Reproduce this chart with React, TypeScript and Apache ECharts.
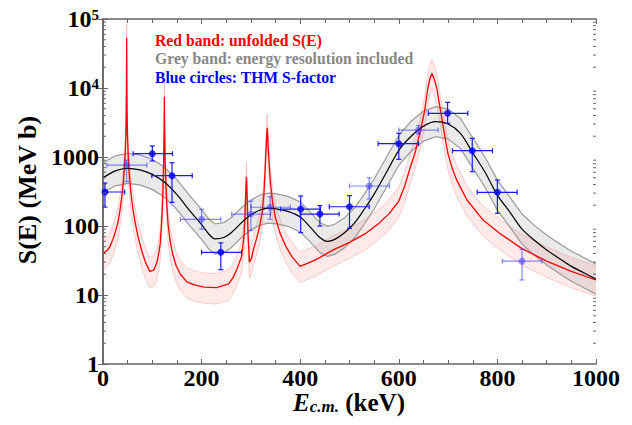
import React, { useEffect, useRef } from "react";
import * as echarts from "echarts";

const FONT = "Liberation Serif";

// x tick values (keV)
const xTickValues = [0, 200, 400, 600, 800, 1000];
// y tick labels (log axis)
const yTickLabels = ["1", "10", "100", "1000", "10^4", "10^5"];
// minor tick positions of the log axis
const yMinorTicks = [
  2, 3, 4, 5, 6, 7, 8, 9,
  20, 30, 40, 50, 60, 70, 80, 90,
  200, 300, 400, 500, 600, 700, 800, 900,
  2000, 3000, 4000, 5000, 6000, 7000, 8000, 9000,
  20000, 30000, 40000, 50000, 60000, 70000, 80000, 90000,
];

// Red: unfolded S(E)  [E, S, lower, upper]
const redCurve: number[][] = [
  [0, 40, 23, 64], [8, 44, 25.6, 70], [14, 50, 29, 80], [20, 64, 37, 102], [25, 82, 48, 131],
  [30, 110, 64, 176], [34, 160, 93, 256], [38, 260, 151, 416], [41, 420, 244, 672], [43, 650, 378, 1040],
  [45, 1100, 640, 1760], [46.3, 2000, 1160, 3200], [47.2, 4500, 2620, 7200], [47.7, 14000, 8140, 22400],
  [48, 53600, 31200, 85800], [48.3, 14000, 8140, 22400], [48.8, 4500, 2620, 7200], [49.7, 2000, 1160, 3200],
  [51, 1100, 640, 1760], [53, 600, 349, 960], [56, 330, 192, 528], [60, 190, 110, 304], [65, 115, 67, 184],
  [71, 70, 41, 112], [78, 45, 26, 72], [86, 30, 17.4, 48], [95, 22, 12.8, 35], [103, 23, 13.4, 37],
  [109, 29, 16.9, 46], [113, 40, 23, 64], [116, 55, 32, 88], [118, 90, 52, 144], [120, 160, 93, 256],
  [121.5, 300, 174, 480], [123, 800, 465, 1280], [124, 2500, 1450, 4000], [124.5, 7480, 4350, 12000],
  [125, 2500, 1450, 4000], [126, 900, 523, 1440], [127.5, 420, 244, 672], [129.5, 200, 116, 320],
  [132, 105, 61, 168], [136, 62, 36, 99], [141, 40, 23, 64], [148, 27, 15.7, 43], [157, 20, 11.6, 32],
  [170, 15.5, 9, 24.8], [185, 14, 8.1, 22.4], [205, 13, 7.6, 20.8], [230, 12.8, 7.4, 20.5],
  [255, 14.5, 8.4, 23.2], [264, 18, 10.5, 28.8], [272, 24, 14, 38], [281, 36, 21, 58], [286, 70, 41, 112],
  [288, 140, 81, 224], [289.5, 300, 174, 480], [291, 518, 301, 829], [292.5, 250, 145, 400],
  [294, 80, 47, 128], [297, 30, 17.4, 48], [301, 34, 20, 54], [305, 45, 26, 72], [312, 68, 40, 109],
  [318, 100, 58, 160], [323, 160, 93, 256], [326.5, 300, 174, 480], [329, 700, 407, 1120],
  [330.5, 1200, 698, 1920], [332, 2000, 1160, 3200], [333, 2660, 1550, 4260], [334, 2000, 1160, 3200],
  [335.5, 1200, 698, 1920], [337.5, 700, 407, 1120], [340, 400, 233, 640], [344, 220, 128, 352],
  [350, 130, 76, 208], [359, 79, 46, 126], [370, 52, 30, 83], [383, 36, 21, 58], [400, 26, 15.1, 42],
  [430, 32, 18.6, 51], [467, 45, 26, 72], [500, 58, 34, 93], [534, 79, 46, 126], [560, 110, 64, 176],
  [580, 150, 87, 240], [600, 230, 134, 368], [612, 380, 221, 608], [623, 700, 407, 1120],
  [633, 1150, 669, 1840], [645, 2600, 1510, 4160], [652, 4500, 2620, 7200], [659, 10000, 5810, 16000],
  [663, 13500, 7850, 21600], [667, 16300, 9480, 26100], [671, 14000, 8140, 22400], [677, 10000, 5810, 16000],
  [684, 5000, 2910, 8000], [690, 2800, 1630, 4480], [695, 1700, 988, 2720], [700, 1100, 640, 1760],
  [708, 700, 407, 1120], [717, 470, 273, 752], [738, 240, 140, 384], [771, 122, 71, 195],
  [805, 78, 45, 125], [850, 47, 27, 75], [900, 31, 18, 50], [950, 22, 12.8, 35], [1000, 16.5, 9.6, 26.4],
];

// Grey: energy resolution included  [E, S, lower, upper]
const greyCurve: number[][] = [
  [0, 500, 303, 825], [25, 630, 382, 1040], [50, 685, 415, 1130], [75, 650, 394, 1073],
  [100, 560, 339, 924], [125, 430, 261, 710], [150, 285, 173, 470], [175, 170, 103, 281],
  [200, 105, 64, 173], [215, 76, 46, 125], [227, 65, 39.4, 107], [245, 68, 41.2, 112],
  [260, 80, 48.5, 132], [280, 110, 67, 182], [300, 145, 88, 239], [320, 172, 104, 284],
  [335, 182, 110, 300], [350, 178, 108, 294], [375, 163, 99, 269], [400, 135, 82, 223],
  [420, 97, 59, 160], [440, 68, 41.2, 112], [455, 60, 36.4, 99], [470, 64, 38.8, 106],
  [490, 80, 48.5, 132], [510, 110, 67, 182], [530, 175, 106, 289], [550, 290, 176, 479],
  [575, 600, 364, 990], [600, 1250, 758, 2063], [625, 2000, 1212, 3300], [650, 2800, 1697, 4620],
  [675, 3250, 1970, 5363], [700, 3000, 1818, 4950], [725, 2200, 1333, 3630], [750, 1150, 697, 1898],
  [775, 600, 364, 990], [800, 280, 170, 462], [825, 160, 97, 264], [850, 90, 54.5, 149],
  [875, 62, 37.6, 102], [900, 45, 27.3, 74], [925, 34, 20.6, 56], [950, 26, 15.8, 43],
  [975, 21, 12.7, 35], [1000, 17, 10.3, 28],
];

// THM S-factor points [E, S, Elow, Ehigh, Slow, Shigh]
const thmSolid: number[][] = [
  [4, 311, -36, 44, 188, 420],
  [100, 1117, 61, 141, 875, 1445],
  [140, 536, 99, 181, 220, 826],
  [239, 41.6, 200, 281, 23.3, 57],
  [401, 176, 360, 441, 80, 272],
  [440, 149, 400, 479, 100, 197],
  [500, 190, 459, 540, 93, 275],
  [600, 1560, 558, 640, 926, 2204],
  [699, 4300, 660, 740, 3080, 6200],
  [749, 1234, 709, 790, 613, 1866],
  [800, 308, 759, 840, 153, 464],
];
const thmLight: number[][] = [
  [48, 765, 8, 89, 440, 900],
  [200, 125, 157, 239, 90, 175],
  [300, 149, 261, 340, 86, 230],
  [339, 187, 300, 380, 125, 265],
  [540, 380, 500, 581, 246, 501],
  [640, 2460, 600, 680, 2150, 2850],
  [850, 31, 810, 890, 16.5, 46],
];

function bandSeries(data: number[][], fill: string, edge: string, edgeWidth: number, z: number) {
  return {
    type: "custom",
    z,
    clip: true,
    silent: true,
    data: [0],
    renderItem: (_params: any, api: any) => {
      const upper = data.map((d) => api.coord([d[0], d[3]]));
      const lower = data.map((d) => api.coord([d[0], d[2]]));
      return {
        type: "group",
        children: [
          {
            type: "polygon",
            shape: { points: upper.concat(lower.slice().reverse()) },
            style: { fill, stroke: "none" },
          },
          { type: "polyline", shape: { points: upper }, style: { stroke: edge, lineWidth: edgeWidth, fill: "none" } },
          { type: "polyline", shape: { points: lower }, style: { stroke: edge, lineWidth: edgeWidth, fill: "none" } },
        ],
      };
    },
  };
}

function errorSeries(data: number[][], color: string, z: number) {
  return {
    type: "custom",
    z,
    clip: true,
    silent: true,
    data,
    encode: { x: [0, 2, 3], y: [1, 4, 5] },
    renderItem: (_params: any, api: any) => {
      const x = api.value(0), y = api.value(1);
      const pL = api.coord([api.value(2), y]);
      const pR = api.coord([api.value(3), y]);
      const pB = api.coord([x, api.value(4)]);
      const pT = api.coord([x, api.value(5)]);
      const c = 2.5;
      const style = { stroke: color, lineWidth: 1.2 };
      const ln = (x1: number, y1: number, x2: number, y2: number) => ({ type: "line", shape: { x1, y1, x2, y2 }, style });
      return {
        type: "group",
        children: [
          ln(pL[0], pL[1], pR[0], pR[1]),
          ln(pL[0], pL[1] - c, pL[0], pL[1] + c),
          ln(pR[0], pR[1] - c, pR[0], pR[1] + c),
          ln(pB[0], pB[1], pT[0], pT[1]),
          ln(pB[0] - c, pB[1], pB[0] + c, pB[1]),
          ln(pT[0] - c, pT[1], pT[0] + c, pT[1]),
        ],
      };
    },
  };
}

const AXIS_COLOR = "#666";

export default function App() {
  const ref = useRef<HTMLDivElement>(null);
  useEffect(() => {
    if (!ref.current) return;
    const chart = echarts.init(ref.current, undefined, { renderer: "svg" });
    const labelMap: Record<string, string> = {
      "1": yTickLabels[0], "10": yTickLabels[1], "100": yTickLabels[2], "1000": yTickLabels[3],
      "10000": yTickLabels[4], "100000": yTickLabels[5],
    };
    const legendStyle = (text: string, fill: string) => ({
      text, fill, fontFamily: FONT, fontWeight: "bold", fontSize: 15.7,
    });
    const option: any = {
      animation: false,
      backgroundColor: "#fff",
      grid: { left: 103, right: 36, top: 19, bottom: 61, containLabel: false },
      xAxis: [
        {
          type: "value", min: 0, max: 1000, interval: 200, position: "bottom",
          axisLine: { show: true, lineStyle: { color: AXIS_COLOR, width: 1.5 } },
          axisTick: { show: true, inside: true, length: 5, lineStyle: { color: AXIS_COLOR, width: 1 } },
          minorTick: { show: true, splitNumber: 4, length: 4, lineStyle: { color: AXIS_COLOR, width: 1 } },
          splitLine: { show: false },
          axisLabel: {
            margin: 2, color: "#000", fontFamily: FONT, fontWeight: "bold", fontSize: 24, lineHeight: 24,
            formatter: (v: number) => (xTickValues.indexOf(v) >= 0 ? String(v) : ""),
          },
        },
        {
          type: "value", min: 0, max: 1000, interval: 200, position: "top",
          axisLine: { show: true, lineStyle: { color: AXIS_COLOR, width: 1.5 } },
          axisTick: { show: true, inside: true, length: 5, lineStyle: { color: AXIS_COLOR, width: 1 } },
          minorTick: { show: true, splitNumber: 4, length: 4, lineStyle: { color: AXIS_COLOR, width: 1 } },
          splitLine: { show: false },
          axisLabel: { show: false },
        },
      ],
      yAxis: [
        {
          type: "log", logBase: 10, min: 1, max: 100000, position: "left",
          axisLine: { show: true, lineStyle: { color: AXIS_COLOR, width: 1.5 } },
          axisTick: { show: true, inside: true, length: 5, lineStyle: { color: AXIS_COLOR, width: 1 } },
          splitLine: { show: false },
          axisLabel: {
            margin: 4, color: "#000", fontFamily: FONT, fontWeight: "bold", fontSize: 24,
            formatter: (v: number) => {
              const s = labelMap[String(Math.round(v))] || "";
              if (s.indexOf("^") >= 0) {
                const [b, e] = s.split("^");
                return b + "{sup|" + e + "}";
              }
              return s;
            },
            rich: {
              sup: { fontFamily: FONT, fontWeight: "bold", fontSize: 15, color: "#000", verticalAlign: "top", lineHeight: 24 },
            },
          },
        },
        {
          type: "log", logBase: 10, min: 1, max: 100000, position: "right",
          axisLine: { show: true, lineStyle: { color: AXIS_COLOR, width: 1.5 } },
          axisTick: { show: true, inside: true, length: 5, lineStyle: { color: AXIS_COLOR, width: 1 } },
          splitLine: { show: false },
          axisLabel: { show: false },
        },
      ],
      series: [
        bandSeries(redCurve, "rgba(255,60,60,0.11)", "rgba(255,150,150,0.55)", 0.8, 1),
        bandSeries(greyCurve, "rgba(140,140,140,0.18)", "#9a9a9a", 1.2, 2),
        {
          type: "line", z: 3, silent: true, showSymbol: false, clip: true,
          data: redCurve.map((d) => [d[0], d[1]]),
          lineStyle: { color: "#ff0000", width: 1.3 },
        },
        {
          type: "line", z: 3, silent: true, showSymbol: false, clip: true, smooth: 0.3,
          data: greyCurve.map((d) => [d[0], d[1]]),
          lineStyle: { color: "#000", width: 1.2 },
        },
        errorSeries(thmLight, "rgba(40,40,255,0.55)", 4),
        errorSeries(thmSolid, "#1a1aff", 5),
        {
          type: "scatter", z: 6, silent: true, symbol: "circle", symbolSize: 7,
          data: thmLight.map((d) => [d[0], d[1]]),
          itemStyle: { color: "rgba(40,40,255,0.55)" },
        },
        {
          type: "scatter", z: 7, silent: true, symbol: "circle", symbolSize: 7,
          data: thmSolid.map((d) => [d[0], d[1]]),
          itemStyle: { color: "#0000ff" },
        },
        {
          type: "custom", z: 8, silent: true, clip: false,
          data: yMinorTicks.map((v) => [0, v]),
          renderItem: (params: any, api: any) => {
            const y = api.coord([0, api.value(1)])[1];
            const cs = params.coordSys;
            const style = { stroke: AXIS_COLOR, lineWidth: 1 };
            return {
              type: "group",
              children: [
                { type: "line", shape: { x1: cs.x, y1: y, x2: cs.x + 3, y2: y }, style },
                { type: "line", shape: { x1: cs.x + cs.width - 3, y1: y, x2: cs.x + cs.width, y2: y }, style },
              ],
            };
          },
        },
      ],
      graphic: [
        { type: "text", left: 155, top: 32, z: 10, style: legendStyle("Red band: unfolded S(E)", "#ff0000") },
        { type: "text", left: 155, top: 50.5, z: 10, style: legendStyle("Grey band: energy resolution included", "#888888") },
        { type: "text", left: 155, top: 69, z: 10, style: legendStyle("Blue circles: THM S-factor", "#0000ff") },
        {
          type: "text", x: 27, y: 190, rotation: Math.PI / 2, z: 10,
          style: {
            text: "S(E) (MeV b)", fill: "#000", fontFamily: FONT, fontWeight: "bold", fontSize: 26,
            align: "center", verticalAlign: "middle",
          },
        },
        {
          type: "text", x: 349, y: 402, z: 10,
          style: {
            text: "{e|E}{s|c.m.}{n| (keV)}",
            align: "center", verticalAlign: "middle",
            rich: {
              e: { fontFamily: FONT, fontWeight: "bold", fontStyle: "italic", fontSize: 25, fill: "#000", lineHeight: 26, verticalAlign: "bottom" },
              s: { fontFamily: FONT, fontWeight: "bold", fontStyle: "italic", fontSize: 17, fill: "#000", lineHeight: 18, verticalAlign: "bottom" },
              n: { fontFamily: FONT, fontWeight: "bold", fontSize: 25, fill: "#000", lineHeight: 26, verticalAlign: "bottom" },
            },
          },
        },
      ],
    };
    chart.setOption(option);
    return () => chart.dispose();
  }, []);
  return <div ref={ref} style={{ position: "absolute", left: 0, top: 0, width: 632, height: 425 }} />;
}
